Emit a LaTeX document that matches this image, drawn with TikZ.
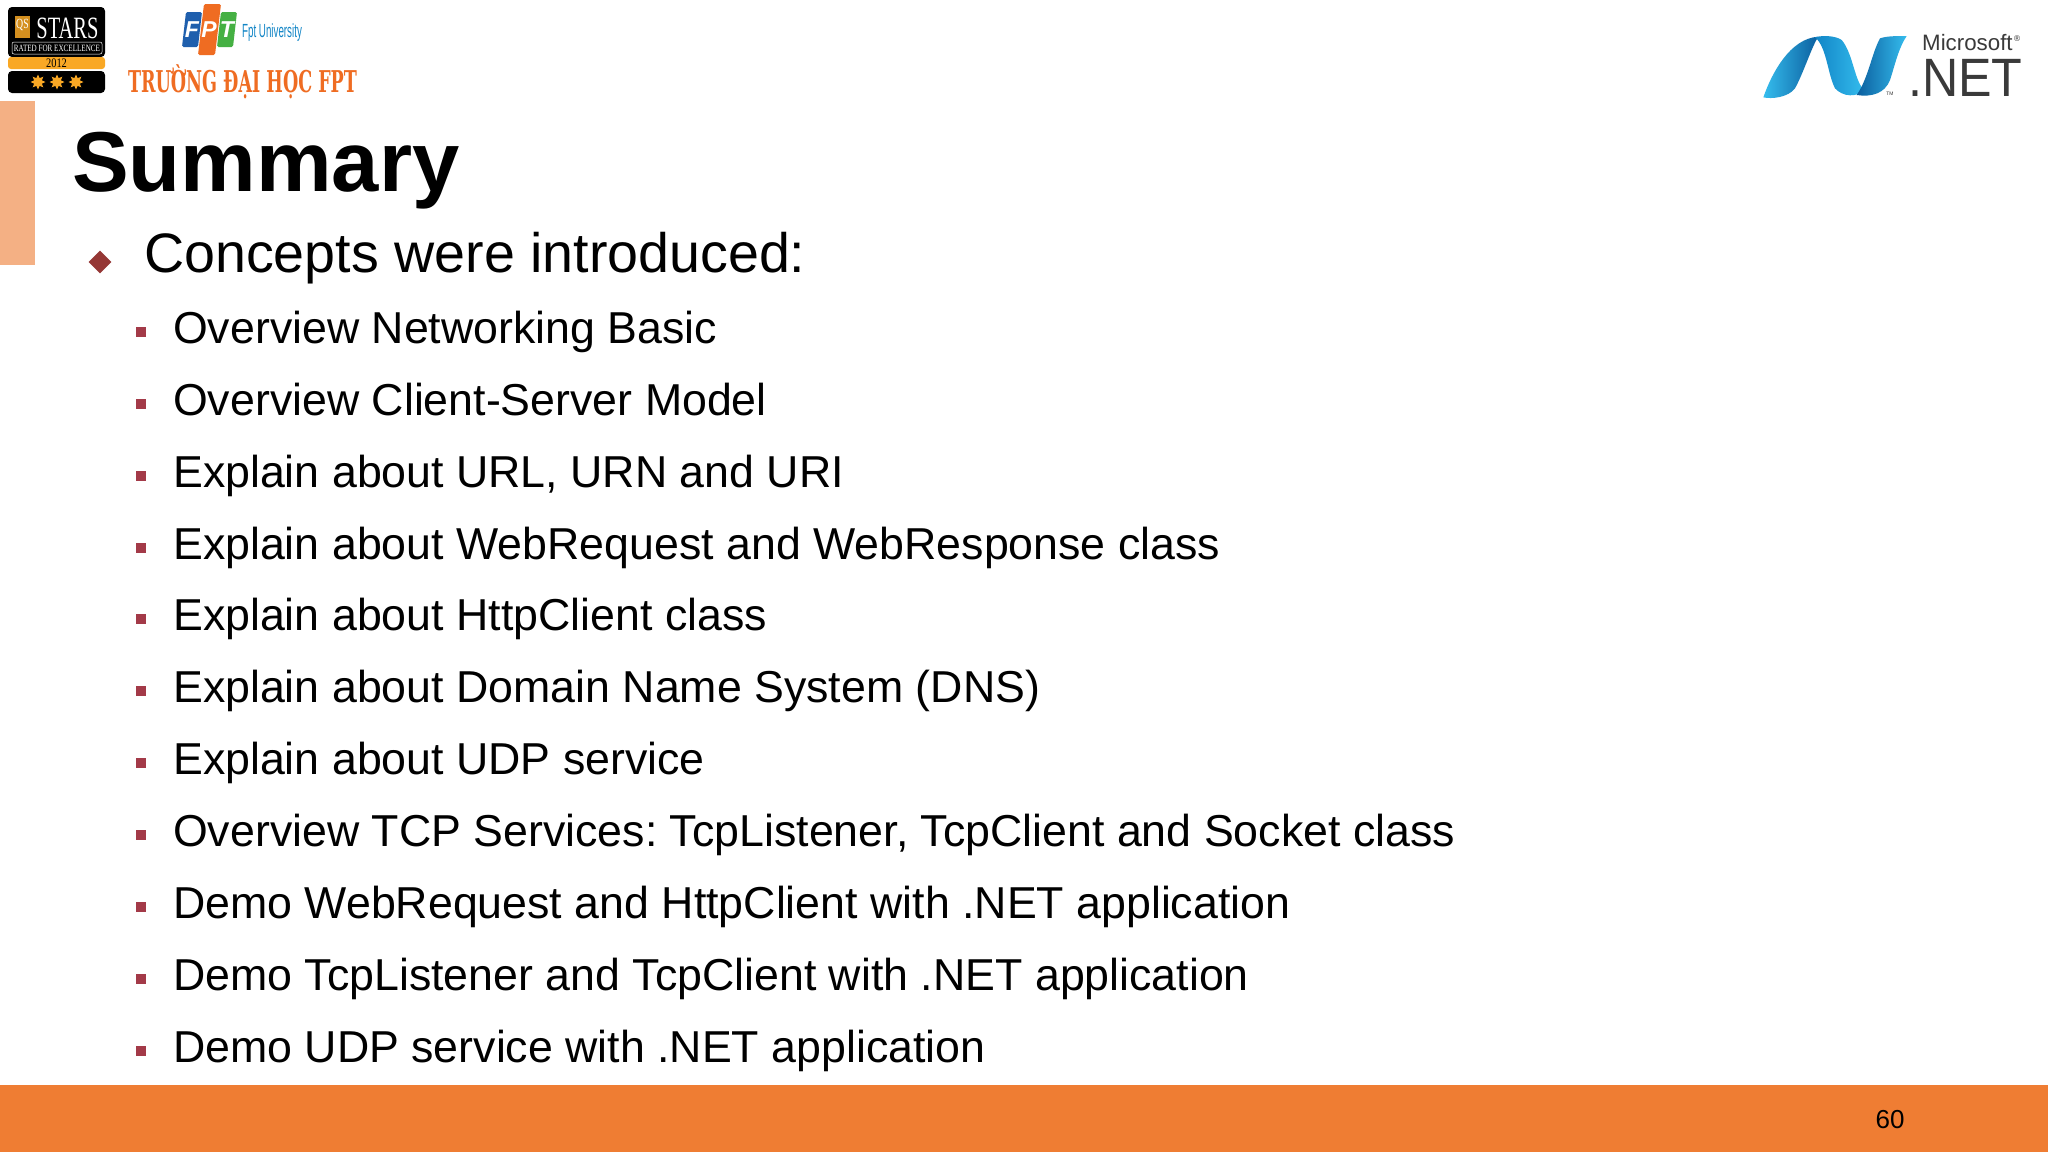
\documentclass[tikz,border=0pt]{standalone}
\usepackage{fontspec}
\setmainfont{Liberation Sans}
\newfontfamily\serifx{Liberation Serif}
\newfontfamily\slabx{DejaVu Serif}
\newfontfamily\dejavux{DejaVu Sans}
\usetikzlibrary{shapes.geometric}
\definecolor{barorange}{HTML}{EF7D33}
\definecolor{sidebar}{HTML}{F4B084}
\definecolor{bulletred}{HTML}{953735}
\definecolor{smallred}{HTML}{A33A48}
\definecolor{qsgold}{HTML}{F9A825}
\definecolor{fptblue}{HTML}{1F5FAD}
\definecolor{fptorange}{HTML}{EF6C22}
\definecolor{fptgreen}{HTML}{45B043}
\definecolor{netdark}{HTML}{0B5E9E}
\definecolor{netmid}{HTML}{1185C6}
\definecolor{netlight}{HTML}{35BDEE}
\definecolor{nettext}{HTML}{3A3A3A}
\tikzset{
  itemtext/.style={anchor=base west,inner sep=0pt,font=\fontsize{44.7}{50}\selectfont,text=black},
  smallbullet/.style={fill=smallred,draw=none,minimum size=10pt,inner sep=0pt,rectangle},
  logotext/.style={inner sep=0pt,anchor=center},
}
\begin{document}
\frenchspacing
\begin{tikzpicture}[x=1pt,y=-1pt]
\useasboundingbox (0,0) rectangle (2048,1152);
\fill[white] (0,0) rectangle (2048,1152);
% bars
\fill[sidebar] (0,101) rectangle (35,265);
\fill[barorange] (0,1085) rectangle (2048,1152);
\node[logotext] (pagenum) at (1890,1120) {\fontsize{26}{30}\selectfont 60};
% title
\node[anchor=base west,inner sep=0pt] (title) at (72,191) {\fontsize{85}{90}\selectfont\bfseries Summary};
\node[diamond,fill=bulletred,minimum size=23pt,inner sep=0pt] (mainbullet) at (100,262) {};
\node[anchor=base west,inner sep=0pt] (head) at (144,272.5) {\fontsize{55.6}{60}\selectfont Concepts were introduced:};
% items
\foreach \i/\t in {0/Overview Networking Basic,
  1/Overview Client-Server Model,
  2/{Explain about URL, URN and URI},
  3/Explain about WebRequest and WebResponse class,
  4/Explain about HttpClient class,
  5/Explain about Domain Name System (DNS),
  6/Explain about UDP service,
  7/{Overview TCP Services: TcpListener, TcpClient and Socket class},
  8/Demo WebRequest and HttpClient with .NET application,
  9/Demo TcpListener and TcpClient with .NET application,
  10/Demo UDP service with .NET application}{
  \node[smallbullet] (b\i) at (141,{332+71.85*\i}) {};
  \node[itemtext] (item\i) at (173,{343.5+71.85*\i}) {\t};
}
% QS stars logo
\fill[black,rounded corners=4pt] (8,7) rectangle (105,57);
\fill[qsgold,rounded corners=3pt] (8,57) rectangle (105,69);
\fill[black,rounded corners=4pt] (8,71) rectangle (105,93);
\fill[qsgold!85!black] (15,16) rectangle (30,38);
\draw[white,line width=.5pt,rounded corners=2pt] (12,42) rectangle (102,54);
\node[logotext,xscale=.7] (qs) at (22.5,25) {\serifx\fontsize{14}{14}\selectfont\color{white}QS};
\node[logotext,xscale=.66] (stars) at (67.5,28) {\serifx\fontsize{31}{32}\selectfont\color{white}STARS};
\node[logotext,xscale=.74] (rated) at (57,48) {\serifx\fontsize{9.6}{10}\selectfont\color{white}RATED FOR EXCELLENCE};
\node[logotext,xscale=.8] (year) at (56.5,63.5) {\serifx\fontsize{13}{13}\selectfont 2012};
\foreach \k/\sx in {1/38,2/57,3/76}{
  \node[star,star points=8,star point ratio=1.8,fill=qsgold,minimum size=15pt,inner sep=0pt] (gold\k) at (\sx,82) {};
}
% FPT logo
\fill[fptblue,rounded corners=1.5pt] (186,12) -- (202,12) -- (198,47) -- (182,47) -- cycle;
\fill[fptgreen,rounded corners=1.5pt] (221,12) -- (237,12) -- (233,47) -- (217,47) -- cycle;
\fill[fptorange,rounded corners=1.5pt] (204,4) -- (221,4) -- (215,55) -- (198,55) -- cycle;
\node[logotext] (ff) at (192,30) {\fontsize{23}{23}\selectfont\bfseries\itshape\color{white}F};
\node[logotext] (fp) at (209,30) {\fontsize{23}{23}\selectfont\bfseries\itshape\color{white}P};
\node[logotext] (ft) at (227,30) {\fontsize{23}{23}\selectfont\bfseries\itshape\color{white}T};
\node[logotext,anchor=west,xscale=.515] (fptu) at (242,33) {\fontsize{19}{20}\selectfont\color{netmid}Fpt University};
\node[logotext,xscale=.584] (truong) at (242.5,82) {\slabx\fontsize{30}{32}\selectfont\bfseries\color{fptorange}TRƯỜNG ĐẠI HỌC FPT};
% .NET logo
\begin{scope}[shift={(1740,10)},scale=1/3]
  \shade[left color=netlight,right color=netdark] (70,262) .. controls (95,190) and (150,85) .. (235,80)
     .. controls (215,110) and (190,190) .. (165,235)
     .. controls (145,262) and (95,268) .. (70,262) -- cycle;
  \shade[left color=netmid,right color=netlight] (225,82) .. controls (245,76) and (285,76) .. (305,90)
     .. controls (340,130) and (345,225) .. (375,240)
     .. controls (350,262) and (310,262) .. (285,235)
     .. controls (262,190) and (260,110) .. (225,82) -- cycle;
  \shade[left color=netdark,right color=netlight] (500,78) .. controls (470,78) and (440,78) .. (420,85)
     .. controls (395,130) and (385,205) .. (350,255)
     .. controls (395,262) and (435,250) .. (450,210)
     .. controls (465,165) and (475,115) .. (500,78) -- cycle;
\end{scope}
\node[logotext,anchor=west] (ms) at (1922,43) {\fontsize{22.3}{24}\selectfont\color{nettext}Microsoft};
\node[logotext] (msreg) at (2017,39) {\dejavux\fontsize{8}{8}\selectfont\color{nettext}®};
\node[logotext,anchor=base west,xscale=.93] (net) at (1908,96) {\fontsize{54}{56}\selectfont\color{nettext}.NET};
\node[logotext] (nettm) at (1890,94) {\fontsize{5}{5}\selectfont\color{nettext}TM};
\end{tikzpicture}
\end{document}
